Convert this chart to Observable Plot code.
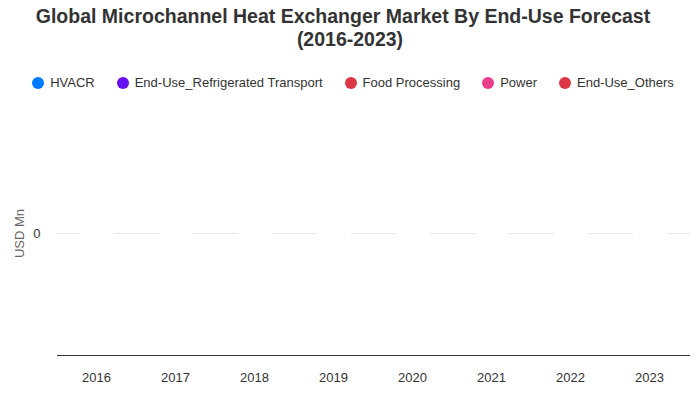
<!DOCTYPE html>
<html>
<head>
<meta charset="utf-8">
<script src="https://cdn.jsdelivr.net/npm/d3@7"></script>
<script src="https://cdn.jsdelivr.net/npm/@observablehq/plot@0.6"></script>
<style>
  body { margin: 0; background: #fff; font-family: "Liberation Sans", Arial, sans-serif; }
  #wrap { width: 700px; height: 400px; position: relative; overflow: hidden; }
  #title { position: absolute; top: 5px; left: 0; width: 700px; text-align: center;
           font-weight: bold; font-size: 19.5px; line-height: 23px; color: #333; }
  #title .l1 { position: relative; left: -7px; }
  #legend { position: absolute; top: 74px; left: 3px; width: 700px; display: flex;
            justify-content: center; gap: 22px; font-size: 13px; color: #333; }
  .item { display: flex; align-items: center; gap: 6px; line-height: 18px; }
  .dot { width: 12px; height: 12px; border-radius: 50%; }
  #chart { position: absolute; top: 100px; left: 0; }
</style>
</head>
<body>
<div id="wrap">
  <div id="title"><div class="l1">Global Microchannel Heat Exchanger Market By End-Use Forecast</div><div>(2016-2023)</div></div>
  <div id="legend"></div>
  <div id="chart"></div>
</div>
<script>
const years = ["2016", "2017", "2018", "2019", "2020", "2021", "2022", "2023"];
const seriesNames = ["HVACR", "End-Use_Refrigerated Transport", "Food Processing", "Power", "End-Use_Others"];
const seriesColors = ["#007bff", "#6610f2", "#dc3545", "#e83e8c", "#dc3545"];
const hvacr = [0, 0, 0, 0, 0, 0, 0, 0];
const refrigeratedTransport = [0, 0, 0, 0, 0, 0, 0, 0];
const foodProcessing = [0, 0, 0, 0, 0, 0, 0, 0];
const power = [0, 0, 0, 0, 0, 0, 0, 0];
const others = [0, 0, 0, 0, 0, 0, 0, 0];
const yTicks = [0];

const seriesValues = [hvacr, refrigeratedTransport, foodProcessing, power, others];
const rows = [];
seriesNames.forEach((s, i) => years.forEach((y, j) => rows.push({year: y, series: s, value: seriesValues[i][j]})));

// legend
const legend = document.getElementById("legend");
seriesNames.forEach((s, i) => {
  const it = document.createElement("div");
  it.className = "item";
  const d = document.createElement("span");
  d.className = "dot";
  d.style.background = seriesColors[i];
  const t = document.createElement("span");
  t.textContent = s;
  it.appendChild(d); it.appendChild(t);
  legend.appendChild(it);
});

const plot = Plot.plot({
  width: 700,
  height: 300,
  marginTop: 11,
  marginBottom: 45,
  marginLeft: 57,
  marginRight: 10,
  style: {fontFamily: "Liberation Sans, Arial, sans-serif", fontSize: "13px", color: "#333", background: "#fff"},
  x: {domain: years, paddingInner: 0.57, paddingOuter: 0.285, align: 0.5, label: null},
  y: {domain: [-1, 1], label: null},
  color: {domain: seriesNames, range: seriesColors},
  marks: [
    Plot.ruleY(yTicks, {stroke: "#e6e6e6", strokeWidth: 1}),
    Plot.barY(rows, Plot.stackY({x: "year", y: "value", fill: "series"})),
    Plot.tickY(rows, Plot.stackY2({x: "year", y: "value", stroke: "#fff", strokeWidth: 3, strokeOpacity: 1})),
    Plot.ruleY([-1], {stroke: "#333", strokeWidth: 1}),
    Plot.axisX({tickSize: 0, tickPadding: 17, fontSize: 13, fill: "#333", label: null, dx: -1}),
    Plot.axisY(yTicks, {tickSize: 0, tickPadding: 17, fontSize: 13, fill: "#333", label: null, tickFormat: d3.format("d")}),
    Plot.text(["USD Mn"], {frameAnchor: "left", dx: -38, rotate: -90, textAnchor: "middle", fill: "#666", fontSize: 13})
  ]
});
document.getElementById("chart").appendChild(plot);
</script>
</body>
</html>
